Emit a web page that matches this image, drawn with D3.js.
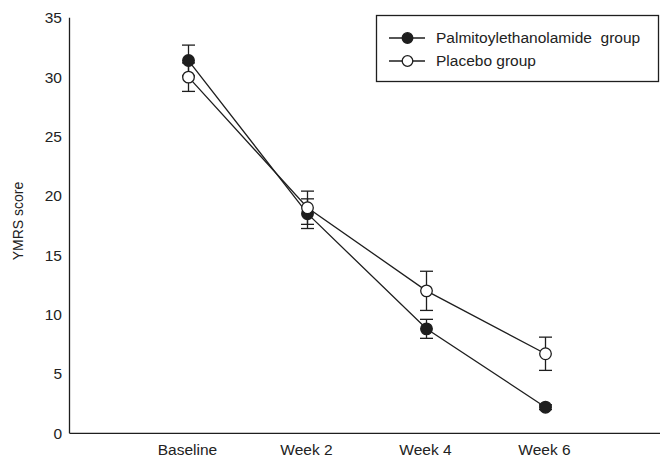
<!DOCTYPE html>
<html>
<head>
<meta charset="utf-8">
<script src="https://cdn.jsdelivr.net/npm/d3@7"></script>
<style>
  html, body { margin: 0; padding: 0; background: #fff; }
  text { font-family: "Liberation Sans", Arial, sans-serif; fill: #222; white-space: pre; }
</style>
</head>
<body>
<svg id="chart" width="660" height="459"></svg>
<script>
const categories = ["Baseline", "Week 2", "Week 4", "Week 6"];
const peaMean = [31.4, 18.5, 8.8, 2.2];
const peaErr = [1.3, 1.25, 0.8, 0.2];
const placeboMean = [30.0, 19.0, 12.0, 6.7];
const placeboErr = [1.2, 1.4, 1.65, 1.4];
const yTicks = [0, 5, 10, 15, 20, 25, 30, 35];
const seriesNames = ["Palmitoylethanolamide  group", "Placebo group"];

const svg = d3.select("#chart");
const ink = "#1e1e1e";

const x = d3.scalePoint()
  .domain(["_l", ...categories, "_r"])
  .range([69.5, 664.5]);
const y = d3.scaleLinear().domain([0, 35]).range([433.3, 17.8]);

// axes lines
svg.append("line").attr("x1", 69.5).attr("x2", 69.5)
  .attr("y1", y(35)).attr("y2", y(0))
  .attr("stroke", ink).attr("stroke-width", 1.3);
svg.append("line").attr("x1", 69.5).attr("x2", 660)
  .attr("y1", y(0)).attr("y2", y(0))
  .attr("stroke", ink).attr("stroke-width", 1.3);

// y tick labels
svg.append("g").selectAll("text").data(yTicks).join("text")
  .attr("x", 62).attr("y", d => y(d)).attr("dy", "0.35em")
  .attr("text-anchor", "end").attr("font-size", 15.5)
  .text(d => d);

// x tick labels
svg.append("g").selectAll("text").data(categories).join("text")
  .attr("x", d => x(d) - 1).attr("y", 455)
  .attr("text-anchor", "middle").attr("font-size", 15.5)
  .text(d => d);

// y label
svg.append("text")
  .attr("transform", "translate(23,221) rotate(-90)")
  .attr("text-anchor", "middle").attr("font-size", 14)
  .text("YMRS score");

const series = [
  { name: seriesNames[0], mean: peaMean, err: peaErr, fill: ink },
  { name: seriesNames[1], mean: placeboMean, err: placeboErr, fill: "#fff" }
];

const line = d3.line().x((d, i) => x(categories[i])).y(d => y(d));
const capW = 6.5;

series.forEach(s => {
  svg.append("path").datum(s.mean).attr("d", line)
    .attr("fill", "none").attr("stroke", ink).attr("stroke-width", 1.3);
});

series.forEach(s => {
  const g = svg.append("g");
  s.mean.forEach((m, i) => {
    const cx = x(categories[i]);
    const e = s.err[i];
    g.append("line").attr("x1", cx).attr("x2", cx)
      .attr("y1", y(m + e)).attr("y2", y(m - e))
      .attr("stroke", ink).attr("stroke-width", 1.3);
    [m + e, m - e].forEach(v => {
      g.append("line").attr("x1", cx - capW).attr("x2", cx + capW)
        .attr("y1", y(v)).attr("y2", y(v))
        .attr("stroke", ink).attr("stroke-width", 1.3);
    });
  });
  g.selectAll("circle").data(s.mean).join("circle")
    .attr("cx", (d, i) => x(categories[i])).attr("cy", d => y(d))
    .attr("r", 5.8).attr("fill", s.fill)
    .attr("stroke", ink).attr("stroke-width", 1.3);
});

// legend
const lg = svg.append("g");
lg.append("rect").attr("x", 376.5).attr("y", 15.5).attr("width", 282).attr("height", 66)
  .attr("fill", "#fff").attr("stroke", ink).attr("stroke-width", 1.3);
series.forEach((s, i) => {
  const ly = 38 + i * 23;
  lg.append("line").attr("x1", 389).attr("x2", 425).attr("y1", ly).attr("y2", ly)
    .attr("stroke", ink).attr("stroke-width", 1.3);
  lg.append("circle").attr("cx", 407.5).attr("cy", ly).attr("r", 5.3)
    .attr("fill", s.fill).attr("stroke", ink).attr("stroke-width", 1.3);
  lg.append("text").attr("x", 436).attr("y", ly).attr("dy", "0.35em")
    .attr("font-size", 15.5).text(s.name);
});
</script>
</body>
</html>
